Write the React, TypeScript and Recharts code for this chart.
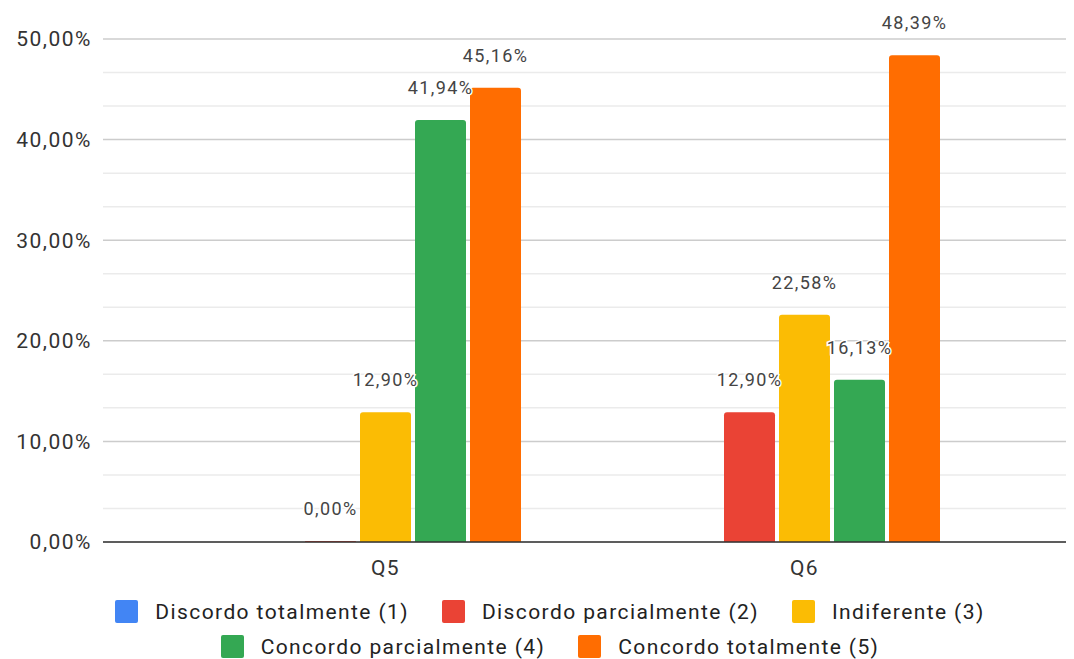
import { BarChart, Bar, XAxis, YAxis, CartesianGrid, Legend, LabelList } from "recharts";

const categorias = ["Q5", "Q6"];
const discordoTotalmente = [null, null];
const discordoParcialmente = [0, 12.9];
const indiferente = [12.9, 22.58];
const concordoParcialmente = [41.94, 16.13];
const concordoTotalmente = [45.16, 48.39];

const yMax = 50;
const majorTicks = [0, 10, 20, 30, 40, 50];
const minorTicks = [10 / 3, 20 / 3, 40 / 3, 50 / 3, 70 / 3, 80 / 3, 100 / 3, 110 / 3, 130 / 3, 140 / 3];

const series = [
  { key: "d1", nome: "Discordo totalmente (1)", cor: "#4285F4", valores: discordoTotalmente },
  { key: "d2", nome: "Discordo parcialmente (2)", cor: "#EA4335", valores: discordoParcialmente },
  { key: "i3", nome: "Indiferente (3)", cor: "#FBBC04", valores: indiferente },
  { key: "c4", nome: "Concordo parcialmente (4)", cor: "#34A853", valores: concordoParcialmente },
  { key: "c5", nome: "Concordo totalmente (5)", cor: "#FF6D01", valores: concordoTotalmente },
];

const data = categorias.map((c, i) => {
  const row: any = { name: c };
  series.forEach((s) => (row[s.key] = s.valores[i]));
  return row;
});

const pct = (v: number) => v.toFixed(2).replace(".", ",") + "%";

const FONT = "Roboto, 'Noto Sans', sans-serif";

// rotulo com halo branco, como no Sheets
const Rotulo = (p: any) => {
  if (p.value === null || p.value === undefined) return null;
  return (
    <text
      x={p.x + p.width / 2}
      y={p.y - 26}
      textAnchor="middle"
      fontFamily={FONT}
      fontSize={18}
      letterSpacing={1.4}
      fill="#444"
      stroke="#fff"
      strokeWidth={3}
      style={{ paintOrder: "stroke" }}
    >
      {pct(p.value)}
    </text>
  );
};

const Legenda = () => {
  const linhas = [series.slice(0, 3), series.slice(3)];
  return (
    <div style={{ height: 70, paddingLeft: 18, fontFamily: FONT, fontSize: 21, color: "#222" }}>
      {linhas.map((linha, li) => (
        <div key={li} style={{ display: "flex", justifyContent: "center", alignItems: "center", height: 35 }}>
          {linha.map((s, i) => (
            <div key={s.key} style={{ display: "flex", alignItems: "center", marginLeft: i === 0 ? 0 : 33 }}>
              <div style={{ width: 23, height: 23, background: s.cor, borderRadius: 2, marginRight: 17 }} />
              <span style={{ letterSpacing: 1.4 }}>{s.nome}</span>
            </div>
          ))}
        </div>
      ))}
    </div>
  );
};

// linhas menores da grade (a cada 1/3 do passo)
const minorLines = ({ yAxis, offset }: any) =>
  minorTicks.map((t) =>
    yAxis && typeof yAxis.scale === "function"
      ? yAxis.scale(t)
      : offset.top + offset.height * (1 - t / yMax)
  );

export default function App() {
  return (
    <BarChart
      width={1066}
      height={651}
      data={data}
      margin={{ top: 31, right: 0, left: 0, bottom: 7 }}
      barCategoryGap={74}
      barGap={4}
    >
      <CartesianGrid vertical={false} stroke="#ebebeb" strokeWidth={1.5} horizontalCoordinatesGenerator={minorLines} />
      <CartesianGrid vertical={false} stroke="#cccccc" strokeWidth={1.5} />
      <XAxis
        dataKey="name"
        tickLine={false}
        axisLine={{ stroke: "#333", strokeWidth: 1.5 }}
        padding={{ left: 73, right: 60 }}
        height={40}
        tickMargin={12}
        tick={{ fontFamily: FONT, fontSize: 21, fill: "#333", letterSpacing: 1.4 }}
      />
      <YAxis
        domain={[0, yMax]}
        ticks={majorTicks}
        width={95}
        axisLine={false}
        tickLine={false}
        tickMargin={5}
        tickFormatter={pct}
        tick={{ fontFamily: FONT, fontSize: 21, fill: "#333", letterSpacing: 1.5 }}
      />
      <Legend verticalAlign="bottom" content={<Legenda />} wrapperStyle={{ top: 586, left: 0, width: 1066 }} />
      {series.map((s) => (
        <Bar
          key={s.key}
          dataKey={s.key}
          name={s.nome}
          fill={s.cor}
          radius={[3, 3, 0, 0]}
          minPointSize={(v: any) => (v === 0 ? 1 : 0)}
          isAnimationActive={false}
        >
          <LabelList dataKey={s.key} content={<Rotulo />} />
        </Bar>
      ))}
    </BarChart>
  );
}
